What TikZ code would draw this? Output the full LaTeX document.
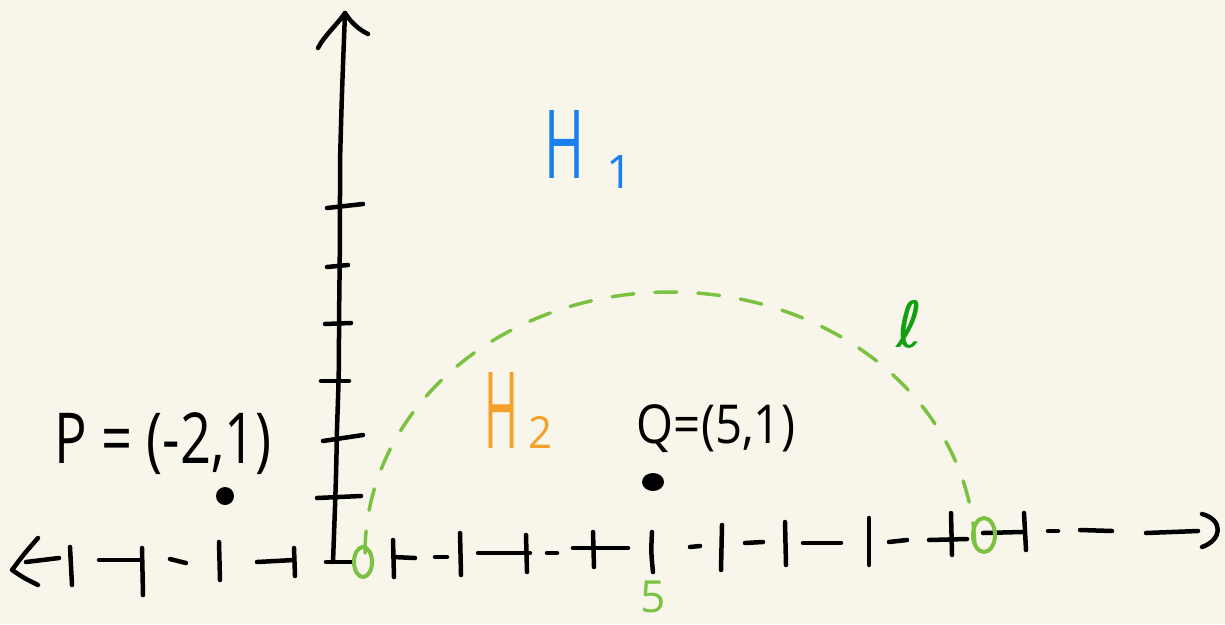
\documentclass[tikz,border=0pt]{standalone}
\usepackage{fontspec}
\setmainfont{Open Sans}
\newfontfamily\dejavu{DejaVu Sans}
\usepackage{graphicx}
\definecolor{bg}{HTML}{F8F6EB}
\definecolor{hblue}{HTML}{1A80F2}
\definecolor{horange}{HTML}{F5A02A}
\definecolor{lgreen}{HTML}{7CC242}
\definecolor{dgreen}{HTML}{12A012}
\tikzset{
  pen/.style={line width=4.5pt, line cap=round, line join=round, black},
  gpen/.style={line width=4pt, line cap=round, line join=round, lgreen},
  lbl/.style={inner sep=0pt, outer sep=0pt, anchor=center},
  dotmark/.style={fill=black, draw=none},
}
\begin{document}
\begin{tikzpicture}[x=1pt,y=-1pt]
\fill[bg] (0,0) rectangle (1225,624);
\useasboundingbox (0,0) rectangle (1225,624);

% ---------- x-axis (hand drawn pieces) ----------
\draw[pen] (38,538) .. controls (24,554) .. (12,570) .. controls (24,578) .. (38,585);
\draw[pen] (26,562) -- (59,558);
\draw[pen] (70,547) .. controls (71,566) .. (72,585);
\draw[pen] (99,560) -- (140,560);
\draw[pen] (142,548) -- (143,595);
\draw[pen] (170,559) -- (186,563);
\draw[pen] (219,542) -- (220,580);
\draw[pen] (257,562) -- (294,560);
\draw[pen] (294,548) -- (295,576);
\draw[pen] (326,562) -- (352,562);
\draw[pen] (393,540) -- (394,577);
\draw[pen] (393,557) -- (415,558);
\draw[pen] (435,557) -- (447,557);
\draw[pen] (460,533) -- (461,575);
\draw[pen] (478,553) -- (530,553);
\draw[pen] (526,535) -- (527,572);
\draw[pen] (547,553) -- (557,553);
\draw[pen] (573,548) -- (628,548);
\draw[pen] (593,532) -- (594,567);
\draw[pen] (652,532) .. controls (651,552) .. (653,572);
\draw[pen] (690,547) -- (700,546);
\draw[pen] (722,525) -- (721,570);
\draw[pen] (745,543) -- (763,542);
\draw[pen] (785,522) -- (786,565);
\draw[pen] (803,543) -- (841,543);
\draw[pen] (869,518) -- (869,565);
\draw[pen] (889,542) -- (907,540);
\draw[pen] (929,540) -- (967,539);
\draw[pen] (951,513) -- (952,555);
\draw[pen] (983,533) -- (1022,532);
\draw[pen] (1024,513) -- (1026,550);
\draw[pen] (1048,531) -- (1058,531);
\draw[pen] (1080,530) -- (1112,531);
\draw[pen] (1146,533) -- (1198,531);
\draw[pen] (1202,514) .. controls (1224,520) and (1222,540) .. (1202,547);

% ---------- y-axis ----------
\draw[pen] (333,562) .. controls (336,480) .. (337,429) .. controls (339,370) .. (339,321)
  .. controls (340,240) .. (340,161) .. controls (342,90) .. (345,13);
\draw[pen] (318,48) .. controls (324,36) and (336,26) .. (345,13) .. controls (352,24) and (360,30) .. (368,34);
\draw[pen] (327,208) -- (363,204);
\draw[pen] (327,267) -- (348,265);
\draw[pen] (325,324) -- (351,323);
\draw[pen] (321,381) -- (349,381);
\draw[pen] (323,441) -- (363,435);
\draw[pen] (317,498) -- (361,496);

% ---------- line l (dashed green arc) ----------
\draw[gpen, line width=3.5pt, dash pattern=on 22pt off 21pt]
  plot[domain=180:0, samples=80, smooth] ({670+305*cos(\x)}, {553-261*sin(\x)});
\draw[gpen] (363,562) ellipse [x radius=9, y radius=15];
\draw[gpen] (984,535) ellipse [x radius=11, y radius=17];

% ---------- points ----------
\fill[dotmark] (225,496) circle [radius=9];
\fill[dotmark] (653,482) ellipse [x radius=11, y radius=9];

% ---------- labels ----------
\node[lbl] (plabel) at (163,444) {\resizebox*{217pt}{62pt}{P = (-2,1)}};
\node[lbl] (qlabel) at (716,429) {\resizebox*{158pt}{48pt}{Q=(5,1)}};
\node[lbl, text=hblue, anchor=base west] (h1) at (544,178)
  {\resizebox*{40pt}{68pt}{H}\hspace{22pt}\raisebox{-10pt}{\resizebox*{!}{33pt}{1}}};
\node[lbl, text=horange, anchor=base west] (h2) at (484,448)
  {\resizebox*{34pt}{76pt}{H}\hspace{10pt}\resizebox*{24pt}{32pt}{2}};
\node[lbl, text=dgreen] (ell) at (910,324) {\resizebox*{!}{48pt}{\dejavu ℓ}};
\node[lbl, text=lgreen] (five) at (653,597) {\resizebox*{!}{32pt}{5}};
\end{tikzpicture}
\end{document}
